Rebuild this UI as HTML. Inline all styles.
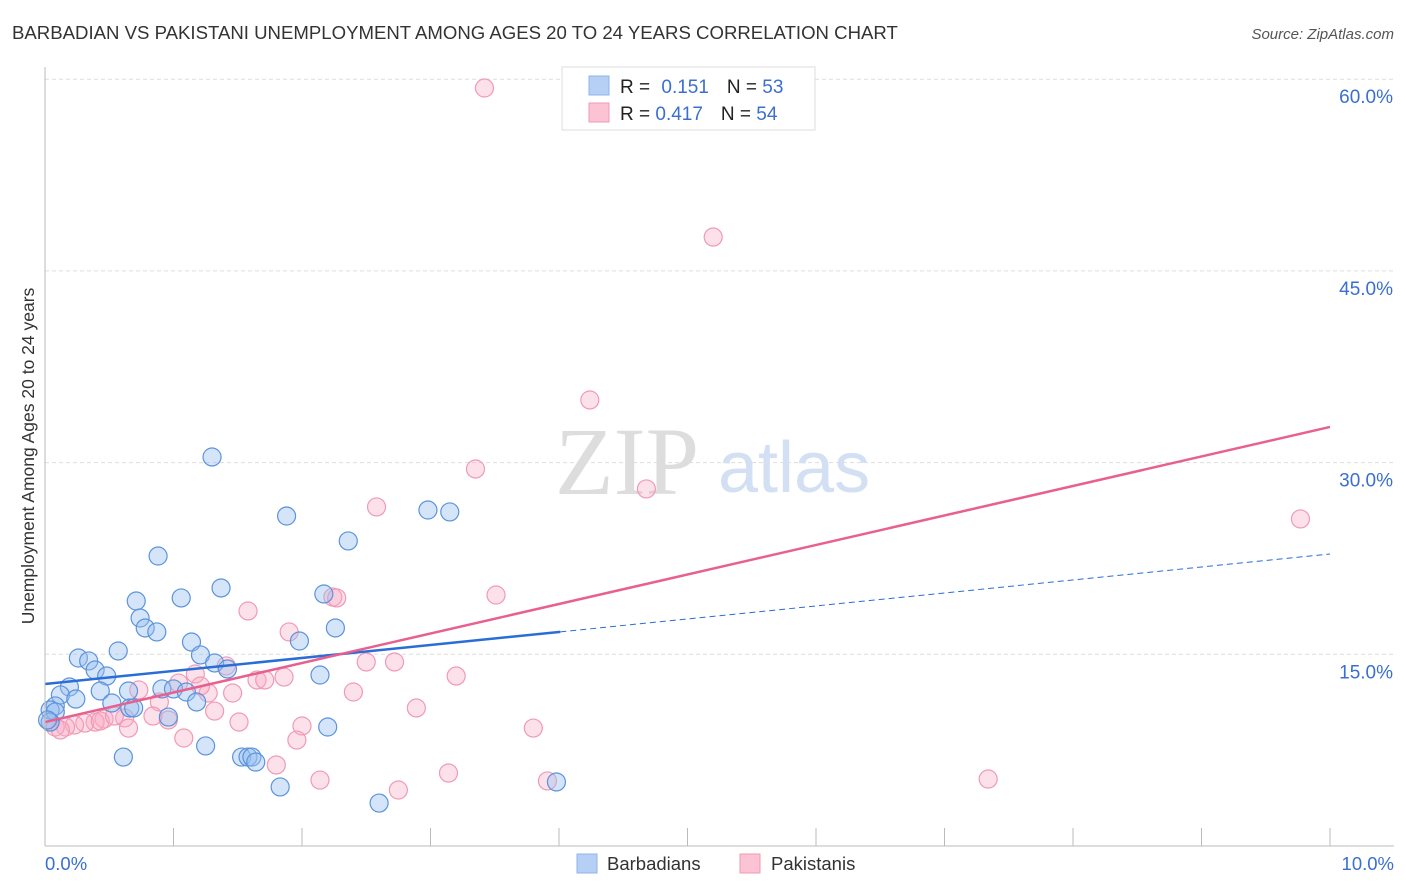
<!DOCTYPE html>
<html><head><meta charset="utf-8"><style>
body{margin:0;background:#fff;font-family:"Liberation Sans",sans-serif}
svg{display:block}
</style></head><body>
<svg id="chart" width="1406" height="892" xmlns="http://www.w3.org/2000/svg">
<text x="12" y="39" font-size="18.6" fill="#333">BARBADIAN VS PAKISTANI UNEMPLOYMENT AMONG AGES 20 TO 24 YEARS CORRELATION CHART</text>
<text x="1394" y="39" font-size="15" fill="#555" font-style="italic" text-anchor="end">Source: ZipAtlas.com</text>
<text x="34" y="456" font-size="17.5" fill="#333" text-anchor="middle" transform="rotate(-90 34 456)">Unemployment Among Ages 20 to 24 years</text>
<g id="grid"></g>
<g id="ticks"></g>
<text x="555" y="494" font-size="96" fill="#ddd" font-family="Liberation Serif,serif">ZIP</text>
<text x="718" y="492" font-size="72" fill="#d3e0f3">atlas</text>
<g id="pts"></g>
<g id="lines"></g>
<line x1="45" y1="67" x2="45" y2="846" stroke="#bbb"/>
<line x1="45" y1="846" x2="1394" y2="846" stroke="#bbb"/>
<text x="45" y="870" font-size="18.5" fill="#3a6fd0">0.0%</text>
<text x="1394" y="870" font-size="18.5" fill="#3a6fd0" text-anchor="end">10.0%</text>
<g>
<rect x="562" y="67" width="253" height="63" fill="#fff" stroke="#ddd"/>
<rect x="589" y="76" width="20" height="19" fill="#b6d0f5" stroke="#8fb3e8"/>
<rect x="589" y="103" width="20" height="19" fill="#fbc3d4" stroke="#f09ab5"/>
<text x="620" y="93" font-size="19" fill="#222">R = <tspan fill="#3a6fd0" dx="6">0.151</tspan><tspan dx="18">N = </tspan><tspan fill="#3a6fd0">53</tspan></text>
<text x="620" y="120" font-size="19" fill="#222">R = <tspan fill="#3a6fd0">0.417</tspan><tspan dx="18">N = </tspan><tspan fill="#3a6fd0">54</tspan></text>
</g>
<g>
<rect x="577" y="854" width="20" height="19" fill="#b6d0f5" stroke="#8fb3e8"/>
<text x="607" y="870" font-size="18.5" fill="#333">Barbadians</text>
<rect x="740" y="854" width="20" height="19" fill="#fbc3d4" stroke="#f09ab5"/>
<text x="771" y="870" font-size="18.5" fill="#333">Pakistanis</text>
</g>
</svg>
<script>
const yTicks=[15,30,45,60];
const xTicks=[0,1,2,3,4,5,6,7,8,9,10];
const blueX=[1.30,.88,1.88,2.98,3.15,2.36,1.37,1.06,.71,2.17,.74,.78,.87,2.26,1.14,1.98,.57,.26,.34,1.21,1.32,1.42,.39,.48,2.14,.19,.43,.65,.91,1.00,1.10,.12,.24,1.18,.52,.66,.69,.96,.08,.04,.08,2.20,1.25,.61,1.53,1.58,1.61,1.64,1.83,2.60,3.98,.04,.02];
const blueY=[30.44,22.69,25.82,26.29,26.14,23.87,20.19,19.41,19.17,19.72,17.84,17.06,16.75,17.06,15.96,16.04,15.26,14.71,14.48,14.95,14.32,13.85,13.77,13.30,13.38,12.44,12.13,12.13,12.29,12.29,12.05,11.82,11.50,11.27,11.19,10.80,10.80,10.09,10.96,10.64,10.49,9.31,7.83,6.96,6.96,6.96,6.96,6.57,4.62,3.36,5.01,9.70,9.86];
const pinkX=[3.42,5.20,4.24,3.35,4.68,2.58,9.77,3.51,1.58,2.24,2.27,1.90,1.41,2.50,2.72,1.17,1.65,1.71,1.86,3.20,.73,1.04,1.27,1.46,2.40,2.89,1.21,.89,1.32,1.51,2.00,.84,.62,.46,.39,.31,.23,.16,.08,.04,.43,.54,.65,1.08,1.96,3.80,1.80,2.14,3.14,2.75,3.91,7.34,.96,.12];
const pinkY=[59.31,47.65,34.90,29.50,27.94,26.53,25.59,19.64,18.39,19.48,19.41,16.75,14.09,14.40,14.40,13.46,12.99,12.99,13.22,13.30,12.21,12.75,11.97,11.97,12.05,10.80,12.52,11.27,10.56,9.70,9.39,10.17,10.02,9.94,9.70,9.62,9.47,9.31,9.31,9.70,9.78,10.17,9.23,8.45,8.29,9.23,6.34,5.16,5.71,4.38,5.09,5.24,9.86,9.08];
const blueTrend=[12.68,22.85];const blueSolidEnd=4.01;
const pinkTrend=[9.70,32.79];
const NS="http://www.w3.org/2000/svg";
const X=v=>45+v*128.5, Y=v=>846-v*12.78;
function mk(t,a,p){const e=document.createElementNS(NS,t);for(const k in a)e.setAttribute(k,a[k]);p.appendChild(e);return e;}
const g=document.getElementById('grid');
yTicks.forEach(t=>{const l=mk('line',{x1:45,x2:1394,y1:Y(t),y2:Y(t),stroke:'#ddd','stroke-dasharray':'4,3'},g);


const tx=mk('text',{x:1393,y:Y(t)+24,'font-size':19,fill:'#3a6fd0','text-anchor':'end'},g);tx.textContent=t.toFixed(1)+'%';

});
const tk=document.getElementById('ticks');
xTicks.forEach(t=>{const l=mk('line',{x1:X(t),x2:X(t),y1:828,y2:846,stroke:'#bbb'},tk);

});
const pg=document.getElementById('pts');
pinkX.forEach((x,i)=>{const c=mk('circle',{cx:X(x),cy:Y(pinkY[i]),r:9,fill:'rgba(248,170,195,0.35)',stroke:'#f09ab5','stroke-width':1.2},pg);

});
blueX.forEach((x,i)=>{const c=mk('circle',{cx:X(x),cy:Y(blueY[i]),r:9,fill:'rgba(150,190,240,0.4)',stroke:'#5c93dc','stroke-width':1.2},pg);

});
const lg=document.getElementById('lines');
const bAt=x=>blueTrend[0]+(blueTrend[1]-blueTrend[0])*x/10;
let l1=mk('line',{x1:X(0),y1:Y(bAt(0)),x2:X(blueSolidEnd),y2:Y(bAt(blueSolidEnd)),stroke:'#2a6dd6','stroke-width':2.5},lg);


let l2=mk('line',{x1:X(blueSolidEnd),y1:Y(bAt(blueSolidEnd)),x2:X(10),y2:Y(bAt(10)),stroke:'#2a6dd6','stroke-width':1,'stroke-dasharray':'6,4'},lg);


let l3=mk('line',{x1:X(0),y1:Y(pinkTrend[0]),x2:X(10),y2:Y(pinkTrend[1]),stroke:'#e8608e','stroke-width':2.5},lg);


</script>
</body></html>
